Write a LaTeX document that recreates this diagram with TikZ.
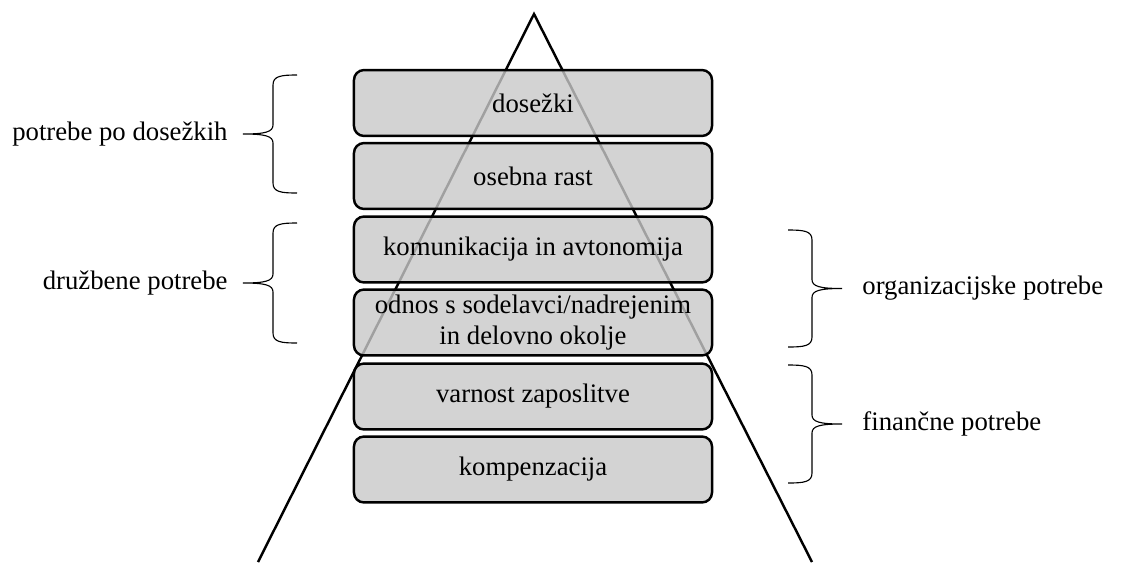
\documentclass[tikz,border=0pt]{standalone}
\usepackage{fontspec}
\setmainfont{Liberation Serif}

\definecolor{boxgray}{RGB}{200,200,200}

% curly brace, tip pointing left; #1 extra scope options, #2 x of the ends, #3 top y, #4 bottom y
\newcommand{\drawcurl}[4][]{%
  \pgfmathsetmacro{\cmid}{(#3+#4)/2}
  \begin{scope}[shift={(#2,0)},#1]
    \draw[curl] (0,#3) .. controls (-16,#3) and (-24,#3+1) .. (-24,#3+10)
      -- (-24,\cmid-9) .. controls (-24,\cmid-2) and (-32,\cmid) .. (-54,\cmid)
      .. controls (-32,\cmid) and (-24,\cmid+2) .. (-24,\cmid+9)
      -- (-24,#4-10) .. controls (-24,#4-1) and (-16,#4) .. (0,#4);
  \end{scope}}

\begin{document}
\begin{tikzpicture}[x=0.01578cm,y=-0.01578cm,
    font=\fontsize{12}{13.8}\selectfont,
    level/.style={draw,line width=1.1pt,rounded corners=4.5pt,
      fill=boxgray,fill opacity=0.8,text opacity=1,align=center,
      minimum width=5.65cm,minimum height=1.04cm,inner ysep=0pt},
    curl/.style={line width=0.5pt},
    side/.style={inner sep=0pt}]

    \useasboundingbox (0,0) rectangle (1123,562);

    % pyramid behind the levels
    \draw[line width=1.1pt] (258,562) -- (534,14) -- (812,562);

    \node[level] (dosezki)  at (533,103) {dosežki};
    \node[level] (rast)     at (533,176) {osebna rast};
    \node[level] (komun)    at (533,249.5) {komunikacija in avtonomija};
    \node[level] (odnos)    at (533,322.5) {odnos s sodelavci/nadrejenim\\in delovno okolje};
    \node[level] (varnost)  at (533,396.5) {varnost zaposlitve};
    \node[level] (kompenz)  at (533,469.5) {kompenzacija};

    % groups on the left
    \drawcurl{297}{75}{193}
    \drawcurl{297}{223}{343}
    \node[side,anchor=east] (dosezne) at (228,134) {potrebe po dosežkih};
    \node[side,anchor=east] (druzbene) at (228,283) {družbene potrebe};

    % groups on the right
    \drawcurl[xscale=-1]{788}{230}{347}
    \drawcurl[xscale=-1]{788}{365}{483}
    \node[side,anchor=west] (organiz) at (862,288.5) {organizacijske potrebe};
    \node[side,anchor=west] (financne) at (862,424) {finančne potrebe};
\end{tikzpicture}
\end{document}
